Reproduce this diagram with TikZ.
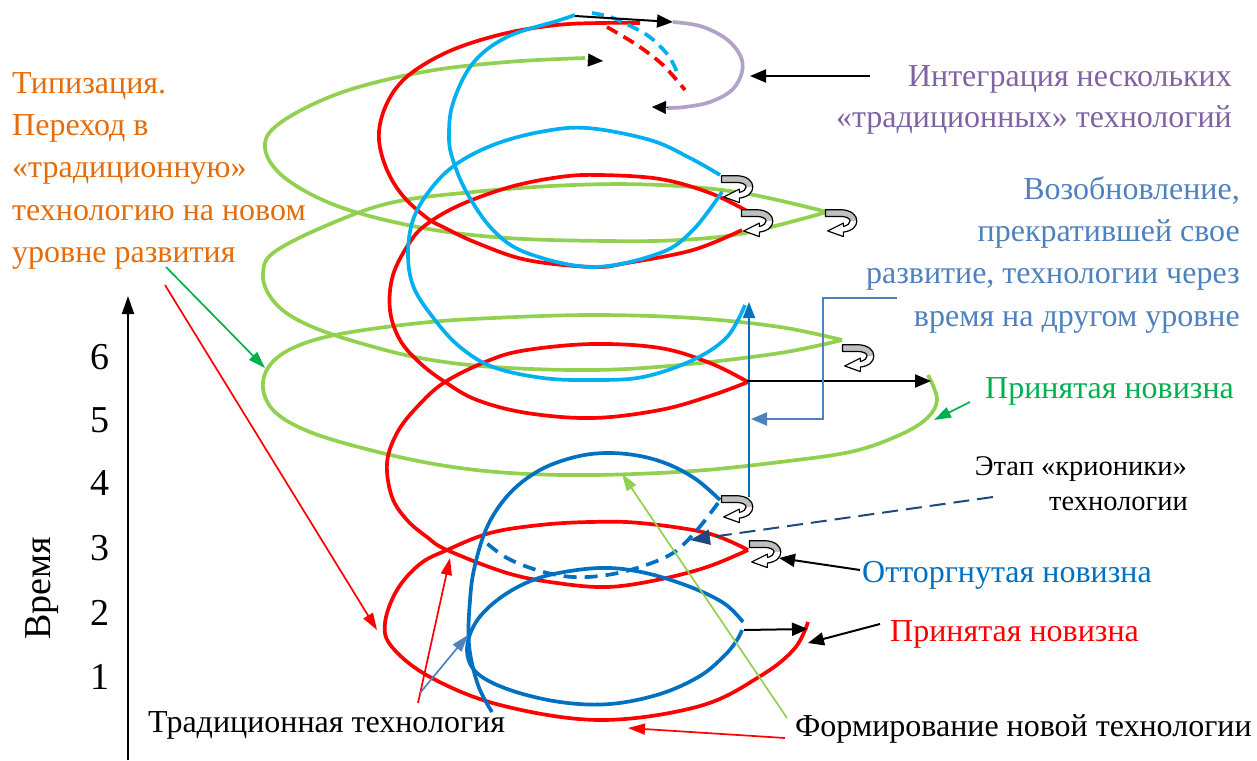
\documentclass[tikz,border=0pt]{standalone}
\usepackage{fontspec}
\setmainfont{Liberation Serif}
\usetikzlibrary{arrows.meta}
\definecolor{cRed}{RGB}{255,0,0}
\definecolor{cLBlue}{RGB}{0,176,240}
\definecolor{cDBlue}{RGB}{0,112,192}
\definecolor{cGreen}{RGB}{146,208,80}
\definecolor{cDGreen}{RGB}{0,176,80}
\definecolor{cOrange}{RGB}{228,108,10}
\definecolor{cPurple}{RGB}{128,100,162}
\definecolor{cLav}{RGB}{178,162,199}
\definecolor{cSteel}{RGB}{79,129,189}
\definecolor{cNavy}{RGB}{31,73,125}
\definecolor{cGrayA}{RGB}{191,191,191}
\newcommand{\fsL}{\fontsize{32}{37}\selectfont}
\newcommand{\fsM}{\fontsize{28.5}{33}\selectfont}
\newcommand{\fsB}{\fontsize{38}{44}\selectfont}
\tikzset{
  spiral/.style={line width=3.7pt},
  thin/.style={line width=1.7pt,-{Triangle[length=17pt,width=11pt]}},
  blk/.style={black,line width=2pt,-{Triangle[length=16pt,width=13pt]}},
  lbl/.style={inner sep=0pt,font=\fsL},
  uturn/.pic={
    \fill[white] (-13,-11) -- (0,-11) .. controls (10,-11) and (15,-6) .. (15,-1)
      .. controls (15,4) and (11,8) .. (3,9) -- (3,13) -- (-11,8) -- (3,1) -- (3,4)
      .. controls (7,3) and (9,1) .. (9,-1) .. controls (9,-3) and (6,-5) .. (0,-5) -- (-13,-5) -- cycle;
    \fill[cGrayA] (-13,-11) -- (0,-11) .. controls (10,-11) and (15,-6) .. (15,-1)
      -- (9,-1) .. controls (9,-3) and (6,-5) .. (0,-5) -- (-13,-5) -- cycle;
    \draw[black,line width=1.2pt,line join=round] (-13,-11) -- (0,-11) .. controls (10,-11) and (15,-6) .. (15,-1)
      .. controls (15,4) and (11,8) .. (3,9) -- (3,13) -- (-11,8) -- (3,1) -- (3,4)
      .. controls (7,3) and (9,1) .. (9,-1) .. controls (9,-3) and (6,-5) .. (0,-5) -- (-13,-5) -- cycle;
  }
}
\begin{document}
\begin{tikzpicture}[x=1pt,y=-1pt]
\useasboundingbox (0,0) rectangle (1257,760);

% ---------- green spiral ----------
\draw[cGreen,spiral] plot[smooth,tension=0.6] coordinates {
 (928,375) (937,400) (925,420) (895,437) (850,452) (780,462) (693,471) (593,475)
 (510,473) (440,465) (370,450) (310,432) (275,412) (263,388) (270,365) (295,347)
 (340,334) (420,323) (493,318) (593,315) (693,318) (780,327) (842,340)};
\draw[cGreen,spiral] plot[smooth,tension=0.6] coordinates {
 (842,340) (780,353) (680,365) (593,370) (493,367) (420,358) (360,343) (315,328)
 (285,312) (268,293) (263,273) (273,253) (323,227) (390,203) (473,192) (573,185)
 (660,185) (743,193) (827,212)};
\draw[cGreen,spiral] plot[smooth,tension=0.6] coordinates {
 (827,212) (745,233) (680,240) (607,241) (507,238) (423,228) (340,207) (285,178)
 (265,148) (280,123) (340,93) (423,72) (507,62) (585,58)};

% ---------- red spiral ----------
\draw[cRed,spiral] plot[smooth,tension=0.6] coordinates {
 (808,622) (795,648) (762,675) (700,706) (600,720) (500,705) (430,677) (392,647)
 (385,623) (397,590) (420,564) (447,550) (490,533) (540,525) (590,522) (640,523)
 (707,533) (748,550)};
\draw[cRed,spiral] plot[smooth,tension=0.6] coordinates {
 (748,550) (707,567) (657,580) (607,587) (557,583) (507,573) (447,550) (427,537)
 (407,520) (392,497) (387,463) (397,433) (417,407) (445,382) (490,360) (527,350)
 (593,344) (660,348) (710,363) (748,382)};
\draw[cRed,spiral] plot[smooth,tension=0.6] coordinates {
 (748,382) (710,396) (660,410) (593,418) (527,413) (477,400) (445,382) (420,363)
 (400,340) (390,310) (393,275) (410,242) (427,224) (460,205) (510,187) (560,177)
 (600,175) (660,179) (710,193) (747,211)};
\draw[cRed,spiral] plot[smooth,tension=0.6] coordinates {
 (742,230) (693,250) (627,263) (593,267) (527,260) (477,243) (443,227) (427,218)
 (403,196) (387,170) (379,140) (383,113) (397,87) (420,67) (457,48) (507,33)
 (557,25) (600,23) (640,23)};
\draw[cRed,spiral,dash pattern=on 12pt off 7pt] plot[smooth] coordinates {
 (607,27) (637,45) (663,65) (685,90)};

% ---------- light blue spiral ----------
\draw[cLBlue,spiral] plot[smooth,tension=0.6] coordinates {
 (575,15) (557,21) (507,37) (473,63) (453,103) (449,137) (453,160) (467,193)
 (493,230) (527,253) (593,267) (660,253) (693,230) (722,192)};
\draw[cLBlue,spiral,dash pattern=on 12pt off 7pt] plot[smooth] coordinates {
 (592,13) (613,18) (647,35) (668,55) (677,72)};
\draw[cLBlue,spiral] plot[smooth,tension=0.6] coordinates {
 (720,175) (690,158) (650,140) (587,128) (540,132) (493,145) (455,165) (430,190)
 (413,220) (408,255) (414,288) (435,320) (460,347) (493,367) (543,378) (593,380)
 (643,377) (693,360) (727,337) (745,305)};

% ---------- dark blue spiral ----------
\draw[cDBlue,spiral] plot[smooth,tension=0.6] coordinates {
 (492,712) (478,685) (469,645) (470,600) (475,565) (488,525) (510,493) (540,470)
 (575,457) (607,453) (640,456) (670,465) (697,480) (720,500)};
\draw[cDBlue,spiral,dash pattern=on 13pt off 8pt] plot[smooth,tension=0.6] coordinates {
 (718,503) (697,530) (673,553) (640,567) (607,575) (573,577) (540,571) (507,558) (483,540)};
\draw[cDBlue,spiral] plot[smooth,tension=0.6] coordinates {
 (743,622) (725,604) (693,588) (650,574) (610,568) (570,571) (533,580) (500,598)
 (476,622) (467,650) (477,673) (510,690) (560,702) (610,704) (660,694) (700,676)
 (725,655) (737,640) (742,630)};

% ---------- purple arc ----------
\draw[cLav,spiral] plot[smooth,tension=0.6] coordinates {
 (673,22) (700,26) (725,38) (740,55) (742,72) (732,90) (710,102) (685,107) (667,108)};
\coordinate (pe1) at (668,107.5);
\coordinate (pe2) at (652,107);
\draw[black,line width=0.5pt,-{Triangle[length=14pt,width=13pt]}] (pe1) -- (pe2);
\coordinate (ge1) at (587,60);
\coordinate (ge2) at (603,61);
\draw[black,line width=0.5pt,-{Triangle[length=15pt,width=13pt]}] (ge1) -- (ge2);

% ---------- u-turn arrows ----------
\pic[scale=1.12] (u1) at (736,188) {uturn};
\pic[scale=1.12] (u2) at (756,222) {uturn};
\pic[scale=1.12] (u3) at (840,222) {uturn};
\pic[scale=1.12] (u4) at (857,357) {uturn};
\pic[scale=1.12] (u5) at (736,508) {uturn};
\pic[scale=1.12] (u6) at (764,553) {uturn};

% ---------- axis ----------
\coordinate (ax0) at (128,760);
\coordinate (ax1) at (128,296);
\draw[black,line width=2pt,-{Triangle[length=18pt,width=12pt]}] (ax0) -- (ax1);
\foreach \n/\yy in {6/357,5/420,4/483,3/548,2/613,1/677}{
  \node[inner sep=0pt,font=\fsB] (d\n) at (100,\yy) {\n};
}
\node[inner sep=0pt,font=\fsB,rotate=90] (time) at (42,588) {Время};

% ---------- labels ----------
\node[lbl,text=cOrange,anchor=base west] (o1) at (12,93) {Типизация.};
\node[lbl,text=cOrange,anchor=base west] (o2) at (12,135) {Переход в};
\node[lbl,text=cOrange,anchor=base west] (o3) at (12,177) {«традиционную»};
\node[lbl,text=cOrange,anchor=base west] (o4) at (12,220) {технологию на новом};
\node[lbl,text=cOrange,anchor=base west] (o5) at (12,262) {уровне развития};

\node[lbl,text=cPurple,anchor=base east] (p1) at (1232,86) {Интеграция нескольких};
\node[lbl,text=cPurple,anchor=base east] (p2) at (1232,127) {«традиционных» технологий};

\node[lbl,text=cSteel,anchor=base east] (s1) at (1240,199) {Возобновление,};
\node[lbl,text=cSteel,anchor=base east] (s2) at (1240,241) {прекратившей свое};
\node[lbl,text=cSteel,anchor=base east] (s3) at (1240,283) {развитие, технологии через};
\node[lbl,text=cSteel,anchor=base east] (s4) at (1240,326) {время на другом уровне};

\node[lbl,text=cDGreen,anchor=base west] (g1) at (985,398) {Принятая новизна};
\node[lbl,font=\fsM,anchor=base east] (k1) at (1187,475) {Этап «крионики»};
\node[lbl,font=\fsM,anchor=base east] (k2) at (1188,510) {технологии};
\node[lbl,text=cDBlue,anchor=base west] (b1) at (862,582) {Отторгнутая новизна};
\node[lbl,text=cRed,anchor=base west] (r1) at (890,641) {Принятая новизна};
\node[lbl,anchor=base west] (tr) at (148,732) {Традиционная технология};
\node[lbl,anchor=base west] (fm) at (795,736) {Формирование новой технологии};

% ---------- connectors ----------
\coordinate (ta) at (575,16);
\coordinate (tb) at (673,22);
\draw[blk] (ta) -- (tb);
\coordinate (ia) at (870,76);
\coordinate (ib) at (750,76);
\draw[blk] (ia) -- (ib);
\coordinate (va) at (749,497);
\coordinate (vb) at (749,302);
\draw[cDBlue,line width=2pt,-{Triangle[length=16pt,width=12pt]}] (va) -- (vb);
\coordinate (ha) at (747,381);
\coordinate (hb) at (931,381);
\draw[blk] (ha) -- (hb);
\coordinate (sa) at (897,298);
\coordinate (sb) at (823,298);
\coordinate (sc) at (823,419);
\coordinate (sd) at (751,419);
\draw[cSteel,line width=2pt,-{Triangle[length=16pt,width=13pt]}] (sa) -- (sb) -- (sc) -- (sd);
\coordinate (na) at (993,497);
\coordinate (nb) at (690,540);
\draw[cNavy,line width=2pt,dash pattern=on 16pt off 8pt,-{Triangle[length=20pt,width=15pt]}] (na) -- (nb);
\coordinate (oa) at (860,570);
\coordinate (ob) at (779,558);
\draw[blk] (oa) -- (ob);
\coordinate (ra) at (880,624);
\coordinate (rb) at (808,643);
\draw[blk] (ra) -- (rb);
\coordinate (ea) at (744,630);
\coordinate (eb) at (808,629);
\draw[blk] (ea) -- (eb);

\coordinate (l1a) at (165,285);
\coordinate (l1b) at (377,630);
\draw[cRed,thin] (l1a) -- (l1b);
\coordinate (l2a) at (418,703);
\coordinate (l2b) at (450,558);
\draw[cRed,thin] (l2a) -- (l2b);
\coordinate (l3a) at (785,738);
\coordinate (l3b) at (628,728);
\draw[cRed,thin] (l3a) -- (l3b);
\coordinate (l4a) at (420,693);
\coordinate (l4b) at (468,635);
\draw[cSteel,thin] (l4a) -- (l4b);
\coordinate (l5a) at (166,267);
\coordinate (l5b) at (265,368);
\draw[cDGreen,thin] (l5a) -- (l5b);
\coordinate (l6a) at (970,402);
\coordinate (l6b) at (934,420);
\draw[cDGreen,thin] (l6a) -- (l6b);
\coordinate (l7a) at (787,718);
\coordinate (l7b) at (622,474);
\draw[cGreen,thin] (l7a) -- (l7b);
\end{tikzpicture}
\end{document}
